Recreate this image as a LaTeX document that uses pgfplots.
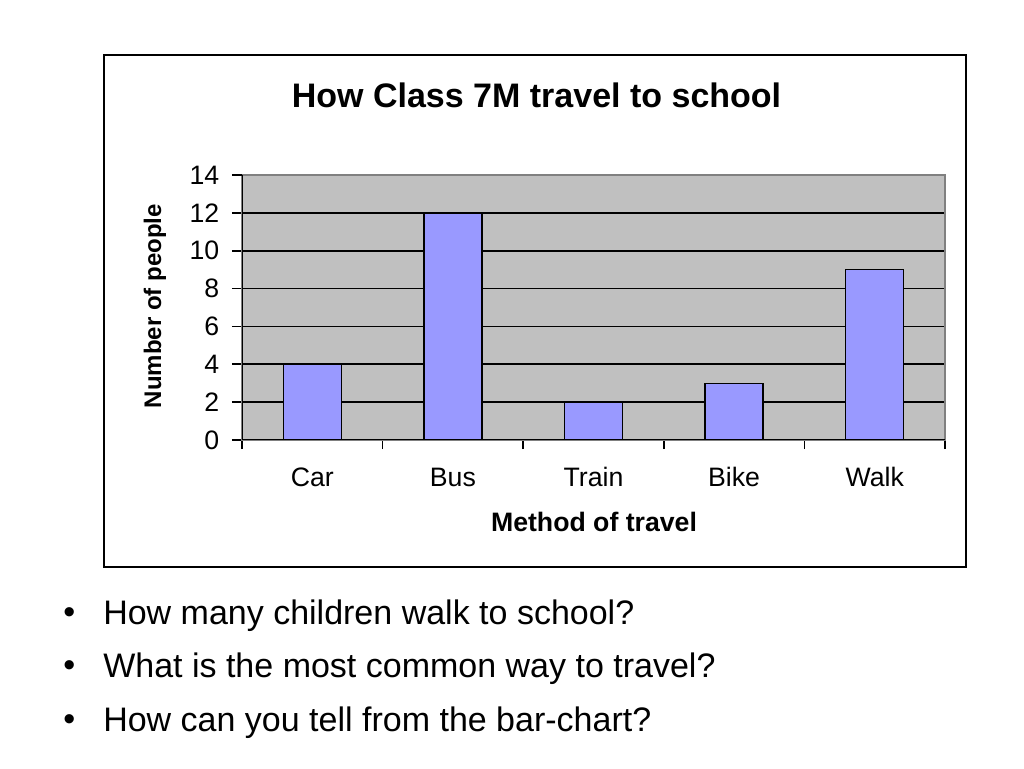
\documentclass[border=0pt]{standalone}
\usepackage{fontspec}
\setmainfont{Liberation Sans}
\usepackage{pgfplots}
\pgfplotsset{compat=1.18}
\definecolor{barblue}{HTML}{9999FF}
\definecolor{plotgray}{HTML}{C0C0C0}
\begin{document}
\begin{tikzpicture}
\path[use as bounding box] (0,0) rectangle (768pt,576pt);
\draw[line width=1.5pt] (78pt,150.75pt) rectangle (724.5pt,534.75pt);
\node[font=\bfseries\fontsize{25.5}{30}\selectfont] at (402.4pt,504.75pt) {How Class 7M travel to school};
\begin{axis}[
  at={(181.5pt,246pt)}, anchor=south west,
  scale only axis, width=527.25pt, height=198.75pt,
  xmin=-0.5, xmax=4.5, ymin=0, ymax=14,
  axis background/.style={fill=plotgray},
  axis line style={draw=gray, line width=1pt},
  tick pos=left, tick align=outside,
  major tick length=7.5pt, minor tick length=6.75pt,
  tick style={black, line width=1.2pt},
  xtick={0,1,2,3,4},
  xticklabels={Car,Bus,Train,Bike,Walk},
  every major x tick/.append style={draw=none},
  minor xtick={-0.5,0.5,1.5,2.5,3.5,4.5},
  ytick={0,2,...,12},
  extra y ticks={14}, extra y tick style={grid=none},
  ymajorgrids, grid style={black, line width=1.2pt},
  /pgf/number format/assume math mode=true,
  ticklabel style={font=\fontsize{20}{24}\selectfont},
  xticklabel style={anchor=base, yshift=-27pt},
  yticklabel style={xshift=-6pt},
]
\addplot[ybar, bar width=43.5pt, fill=barblue, draw=black, line width=1pt] coordinates {(0,4) (1,12) (2,2) (3,3) (4,9)};
\draw[black, line width=1.2pt] (rel axis cs:0,1) -- (rel axis cs:0,0) -- (rel axis cs:1,0);
\end{axis}
\node[rotate=90, font=\bfseries\fontsize{18}{22}\selectfont] at (116.25pt,346.5pt) {Number of people};
\node[font=\bfseries\fontsize{20}{24}\selectfont] at (445.5pt,184.5pt) {Method of travel};
\foreach \y/\t in {114.5/{How many children walk to school?}, 74.75/{What is the most common way to travel?}, 34.25/{How can you tell from the bar-chart?}} {
  \node[font=\fontsize{25.5}{30}\selectfont] at (52pt,\y pt) {•};
  \node[anchor=west, inner sep=0pt, font=\fontsize{25.5}{30}\selectfont] at (77.25pt,\y pt) {\t};
}
\end{tikzpicture}
\end{document}
